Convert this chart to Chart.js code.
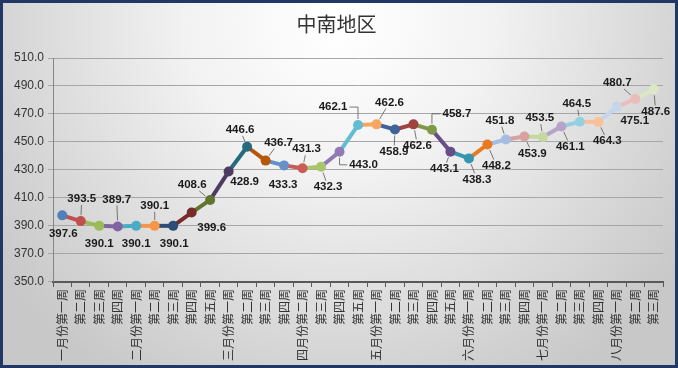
<!DOCTYPE html>
<html lang="zh">
<head>
    <meta charset="UTF-8">
    <title>中南地区</title>
    <style>
        html, body { margin: 0; padding: 0; background: #fff; }
    </style>
</head>
<body>
    <canvas id="myChart" width="678" height="368"></canvas>

    <script src="https://cdn.jsdelivr.net/npm/chart.js"></script>

    <script>
        let weeks = [
            '一月份第一周', '第二周', '第三周', '第四周',
            '二月份第一周', '第二周', '第三周', '第四周', '第五周',
            '三月份第一周', '第二周', '第三周', '第四周',
            '四月份第二周', '第三周', '第四周', '第五周',
            '五月份第一周', '第二周', '第三周', '第四周', '第五周',
            '六月份第一周', '第二周', '第三周', '第四周',
            '七月份第一周', '第二周', '第三周', '第四周',
            '八月份第一周', '第二周', '第三周'
        ];

        let prices = [
            397.6, 393.5, 390.1, 389.7,
            390.1, 390.1, 390.1, 399.6, 408.6,
            428.9, 446.6, 436.7, 433.3,
            431.3, 432.3, 443.0, 462.1,
            462.6, 458.9, 462.6, 458.7, 443.1,
            438.3, 448.2, 451.8, 453.9,
            453.5, 461.1, 464.5, 464.3,
            475.1, 480.7, 487.6
        ];

        let yTicks = [350, 370, 390, 410, 430, 450, 470, 490, 510];

        // one colour per point, the segment leading to a point takes its colour
        let pointColors = [
            '#4F81BD', '#C0504D', '#9BBB59', '#8064A2', '#4BACC6', '#F79646',
            '#2C4D75', '#772C2A', '#5F7530', '#4D3B62', '#276A7C', '#B65708',
            '#6690C8', '#CC5B58', '#A8C66C', '#9278B4', '#62BCD4', '#F8A560',
            '#3F6298', '#A04240', '#7E9A48', '#654F86', '#3596AE', '#E87A22',
            '#A4BDE0', '#D9A0A0', '#C5D89E', '#B4A4C8', '#95D0E0', '#FBC098',
            '#C5D5EC', '#EBBCBC', '#DCE8C4'
        ];

        // label offset from its point, and leader type (0 none, 1 straight, 2 elbow)
        let labelDx = [1, 1, 0, -1, 0, 0, 1, 20, -18, 16, -7, 13, -1, 4, 7, 24, -25,
                       13, -1, 4, 25, -6, 8, 9, -6, 8, -3, 9, -3, 9, 18, -18, 2];
        let labelDy = [18, -22, 18, -27, 18, -20, 18, 15, -15, 10, -17, -18, 19, -19, 20, 13, -18,
                       -22, 22, 21, -16, 17, 21, 21, -19, 17, -19, 20, -18, 19, 14, -16, 22];
        let leader = [0, 1, 0, 1, 0, 1, 0, 0, 1, 0, 1, 1, 0, 1, 1, 2, 2,
                      1, 1, 1, 2, 1, 1, 1, 1, 1, 1, 1, 1, 1, 0, 1, 1];

        const ctx = document.getElementById('myChart');

        let backdrop = {
            id: 'backdrop',
            beforeDraw(chart) {
                let c = chart.ctx;
                let g = c.createRadialGradient(339, 20, 10, 339, 20, 420);
                g.addColorStop(0, '#ffffff');
                g.addColorStop(0.35, '#f2f2f2');
                g.addColorStop(1, '#c8c8c8');
                c.save();
                c.fillStyle = g;
                c.fillRect(0, 0, chart.width, chart.height);
                c.restore();
            },
            afterDraw(chart) {
                let c = chart.ctx;
                c.save();
                c.strokeStyle = '#1f3864';
                c.lineWidth = 3;
                c.strokeRect(1.5, 1.5, chart.width - 3, chart.height - 3);
                c.restore();
            }
        };

        let valueLabels = {
            id: 'valueLabels',
            afterDatasetsDraw(chart) {
                let c = chart.ctx;
                let pts = chart.getDatasetMeta(0).data;
                c.save();
                c.font = 'bold 11.5px "Liberation Sans", Arial, sans-serif';
                c.fillStyle = '#1a1a1a';
                c.textAlign = 'center';
                c.textBaseline = 'middle';
                c.strokeStyle = '#595959';
                c.lineWidth = 0.8;
                pts.forEach((p, i) => {
                    let text = prices[i].toFixed(1);
                    let lx = p.x + labelDx[i];
                    let ly = p.y + labelDy[i];
                    let hw = c.measureText(text).width / 2 + 2;
                    let hh = 6;
                    if (leader[i] === 1) {
                        let dx = p.x - lx, dy = p.y - ly;
                        let len = Math.hypot(dx, dy);
                        let t = Math.min(hw / Math.abs(dx || 1e-6), hh / Math.abs(dy || 1e-6));
                        let sx = lx + dx * t, sy = ly + dy * t;
                        let ex = p.x - dx / len * 6, ey = p.y - dy / len * 6;
                        if (Math.hypot(ex - sx, ey - sy) > 2 && t < 1) {
                            c.beginPath();
                            c.moveTo(sx, sy);
                            c.lineTo(ex, ey);
                            c.stroke();
                        }
                    } else if (leader[i] === 2) {
                        let side = p.x > lx ? 1 : -1;
                        c.beginPath();
                        c.moveTo(lx + side * hw, ly);
                        c.lineTo(p.x, ly);
                        c.lineTo(p.x, p.y + (ly > p.y ? 6 : -6));
                        c.stroke();
                    }
                    c.fillText(text, lx, ly);
                });
                c.restore();
            }
        };

        let options = {
            responsive: false,
            animation: false,
            layout: {
                padding: { left: 10, right: 15, top: 0, bottom: 5 }
            },
            plugins: {
                legend: { display: false },
                tooltip: { enabled: false },
                title: {
                    display: true,
                    text: '中南地区',
                    color: '#333333',
                    font: { family: '"Noto Sans CJK SC"', size: 20, weight: 'normal' },
                    padding: { top: 12, bottom: 22 }
                }
            },
            scales: {
                x: {
                    offset: true,
                    grid: {
                        offset: true,
                        drawOnChartArea: false,
                        drawTicks: true,
                        tickLength: 5,
                        color: '#595959'
                    },
                    border: { color: '#595959', width: 2 },
                    ticks: {
                        autoSkip: false,
                        minRotation: 90,
                        maxRotation: 90,
                        padding: 2,
                        color: '#333333',
                        font: { family: '"Noto Sans CJK SC"', size: 12 }
                    }
                },
                y: {
                    min: 350,
                    max: 510,
                    afterBuildTicks: axis => {
                        axis.ticks = yTicks.map(v => ({ value: v }));
                    },
                    grid: {
                        color: '#a6a6a6',
                        drawTicks: true,
                        tickLength: 5
                    },
                    border: { color: '#868686', width: 1 },
                    ticks: {
                        padding: 4,
                        color: '#333333',
                        font: { family: '"Liberation Sans", Arial, sans-serif', size: 12 },
                        callback: v => Number(v).toFixed(1)
                    }
                }
            }
        };

        let datasets = [
            {
                label: '中南地区',
                data: prices,
                borderWidth: 4,
                pointRadius: 5,
                pointBorderWidth: 0,
                pointBackgroundColor: pointColors,
                pointBorderColor: pointColors,
                segment: {
                    borderColor: s => pointColors[s.p1DataIndex]
                },
                tension: 0
            }
        ];

        let chart = new Chart(ctx, {
            type: 'line',
            data: {
                labels: weeks,
                datasets: datasets
            },
            options: options,
            plugins: [backdrop, valueLabels]
        });
    </script>
</body>
</html>
